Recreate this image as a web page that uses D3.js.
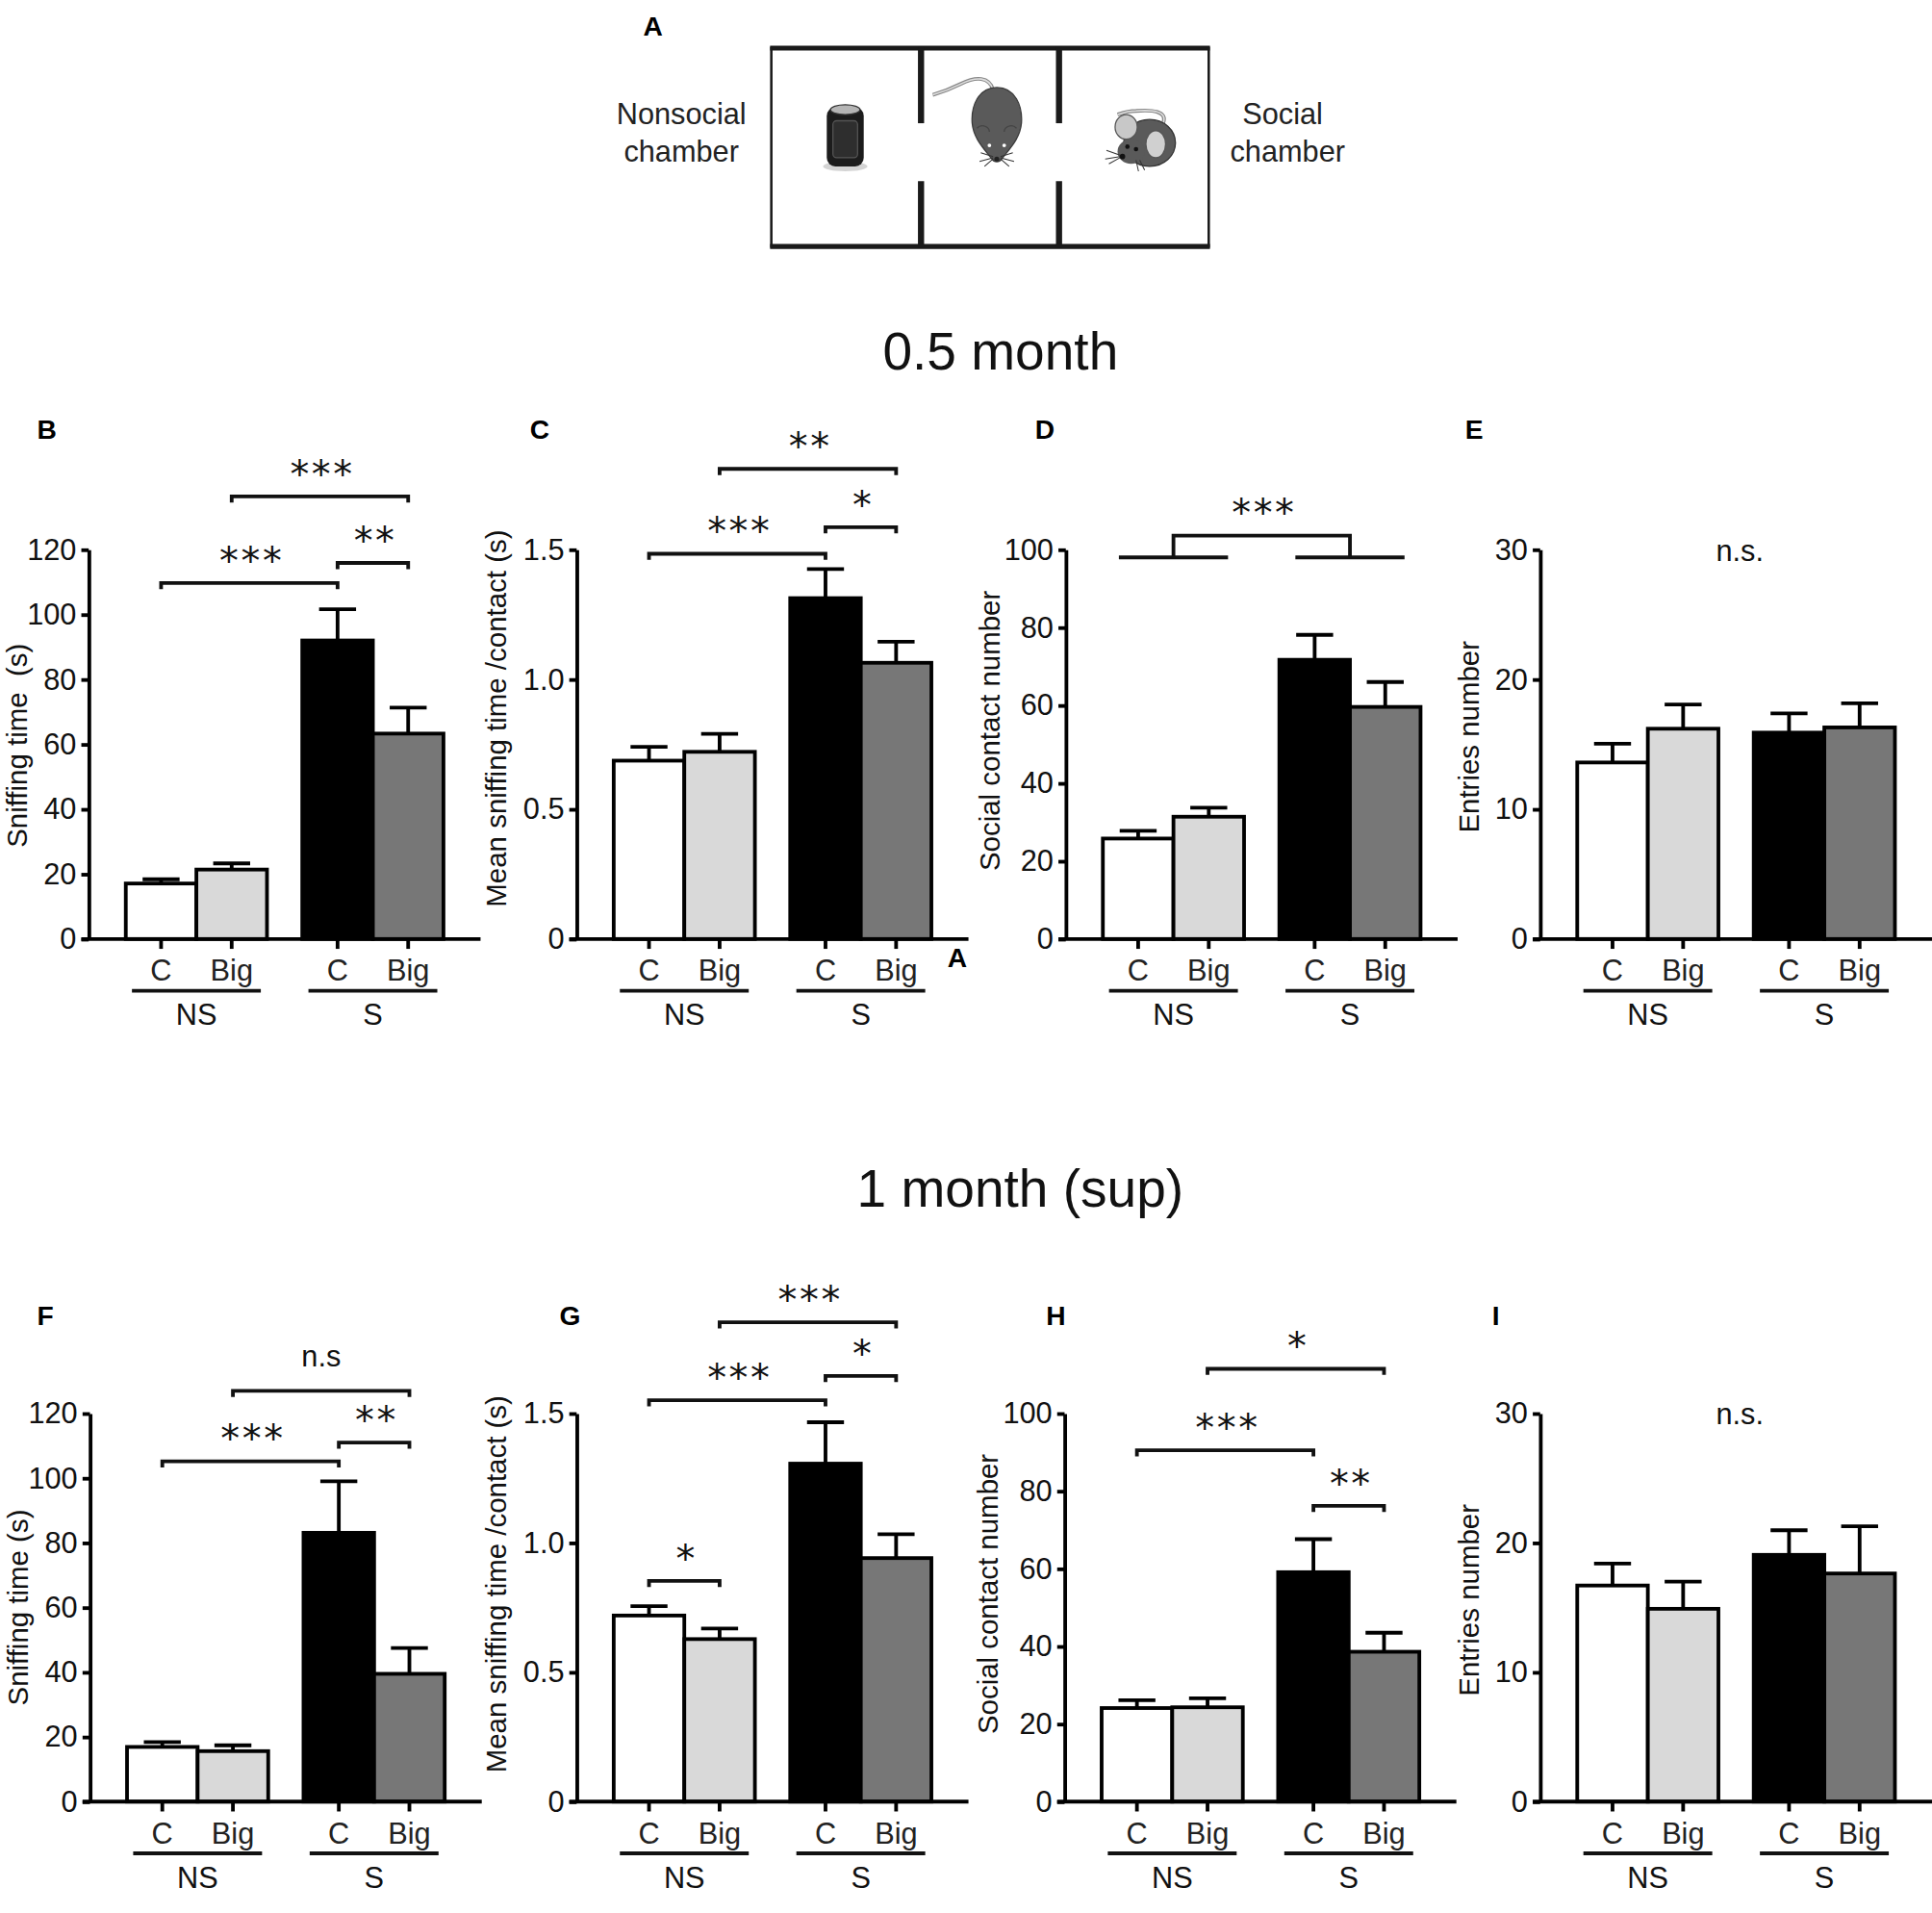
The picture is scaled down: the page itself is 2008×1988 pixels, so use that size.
<!DOCTYPE html>
<html lang="en">
<head>
<meta charset="UTF-8">
<title>Three-chamber social test</title>
<script src="https://d3js.org/d3.v7.min.js"></script>
<style>
  body { margin: 0; padding: 0; background: #fff; }
  svg { display: block; font-family: "Liberation Sans", Arial, sans-serif; }
  .stars { font-family: "DejaVu Sans", sans-serif; }
</style>
</head>
<body>
<div id="chart"></div>
<script>
// ---- data ----
const barGroup = ["NS", "NS", "S", "S"];
const barCond = ["C", "Big", "C", "Big"];
const groupNames = ["NS", "S"];
const condNames = ["C", "Big"];

// 0.5 month
const sniffHalf = [17.1, 21.4, 92.0, 63.3];
const sniffHalfErr = [18.4, 23.3, 101.6, 71.3];
const meanHalf = [0.687, 0.721, 1.313, 1.064];
const meanHalfErr = [0.740, 0.790, 1.425, 1.145];
const contactHalf = [25.8, 31.4, 71.7, 59.6];
const contactHalfErr = [27.8, 33.7, 78.1, 66.0];
const entriesHalf = [13.6, 16.2, 15.9, 16.3];
const entriesHalfErr = [15.05, 18.07, 17.38, 18.16];

// 1 month (sup)
const sniffOne = [16.9, 15.6, 83.1, 39.5];
const sniffOneErr = [18.4, 17.4, 99.0, 47.5];
const meanOne = [0.719, 0.628, 1.306, 0.941];
const meanOneErr = [0.755, 0.669, 1.466, 1.033];
const contactOne = [24.1, 24.3, 59.1, 38.6];
const contactOneErr = [26.1, 26.6, 67.6, 43.5];
const entriesOne = [16.7, 14.9, 19.07, 17.63];
const entriesOneErr = [18.4, 17.0, 20.97, 21.28];

// significance brackets: [from bar, to bar, level, label]
const sigB = [[0, 2, 109.7, "***"], [2, 3, 115.9, "**"], [1, 3, 136.4, "***"]];
const sigC = [[0, 2, 1.484, "***"], [2, 3, 1.586, "*"], [1, 3, 1.811, "**"]];
const sigD = [[0, 1, 98, 103.6, "***"]]; // group vs group: [groupA, groupB, low, high, label]
const sigF = [[0, 2, 105.2, "***"], [2, 3, 111, "**"], [1, 3, 127, "n.s"]];
const sigG = [[0, 1, 0.853, "*"], [0, 2, 1.551, "***"], [2, 3, 1.645, "*"], [1, 3, 1.852, "***"]];
const sigH = [[0, 2, 90.5, "***"], [2, 3, 76.2, "**"], [1, 3, 111.5, "*"]];

const ticks120 = [0, 20, 40, 60, 80, 100, 120];
const ticks15 = [0, 0.5, 1.0, 1.5];
const ticks100 = [0, 20, 40, 60, 80, 100];
const ticks30 = [0, 10, 20, 30];

const barFill = ["#ffffff", "#d9d9d9", "#000000", "#777777"];

// ---- canvas ----
const W = 1568, H = 1552.4;
const svg = d3.select("#chart").append("svg")
    .attr("width", 2008).attr("height", 1988)
    .attr("viewBox", `0 0 ${W} ${H}`);
svg.append("rect").attr("width", W).attr("height", H).attr("fill", "#fff");

const fmtInt = d3.format("d");
const fmtDec = d => d === 0 ? "0" : d3.format(".1f")(d);

const panels = [
    {letter: "B", lx: 30, ly: 356, ax: 72, zero: 762, top: 446, max: 120, ticks: ticks120, fmt: fmtInt,
     title: "Sniffing time  (s)", tdx: -50, tdy: 1, vals: sniffHalf, errs: sniffHalfErr, sig: sigB},
    {letter: "C", lx: 430, ly: 356, ax: 468, zero: 762, top: 446, max: 1.5, ticks: ticks15, fmt: fmtDec,
     title: "Mean sniffing time /contact (s)", tdx: -57, tdy: -21, vals: meanHalf, errs: meanHalfErr, sig: sigC},
    {letter: "D", lx: 840, ly: 356, ax: 865, zero: 762, top: 446, max: 100, ticks: ticks100, fmt: fmtInt,
     title: "Social contact number", tdx: -54, tdy: -11, vals: contactHalf, errs: contactHalfErr, groupSig: sigD},
    {letter: "E", lx: 1189, ly: 356, ax: 1250, zero: 762, top: 446, max: 30, ticks: ticks30, fmt: fmtInt,
     title: "Entries number", tdx: -50, tdy: -6, vals: entriesHalf, errs: entriesHalfErr, ns: "n.s."},
    {letter: "F", lx: 30, ly: 1075, ax: 73, zero: 1462, top: 1147, max: 120, ticks: ticks120, fmt: fmtInt,
     title: "Sniffing time (s)", tdx: -50, tdy: 0, vals: sniffOne, errs: sniffOneErr, sig: sigF},
    {letter: "G", lx: 454, ly: 1075, ax: 468, zero: 1462, top: 1147, max: 1.5, ticks: ticks15, fmt: fmtDec,
     title: "Mean sniffing time /contact (s)", tdx: -57, tdy: -19, vals: meanOne, errs: meanOneErr, sig: sigG},
    {letter: "H", lx: 849, ly: 1075, ax: 864, zero: 1462, top: 1147, max: 100, ticks: ticks100, fmt: fmtInt,
     title: "Social contact number", tdx: -54, tdy: -11, vals: contactOne, errs: contactOneErr, sig: sigH},
    {letter: "I", lx: 1211, ly: 1075, ax: 1250, zero: 1462, top: 1147, max: 30, ticks: ticks30, fmt: fmtInt,
     title: "Entries number", tdx: -50, tdy: -6, vals: entriesOne, errs: entriesOneErr, ns: "n.s."}
];

function drawPanel(p) {
    svg.append("text").attr("x", p.lx).attr("y", p.ly)
        .attr("font-size", 22).attr("font-weight", "bold").text(p.letter);

    const g = svg.append("g").attr("transform", `translate(${p.ax},0)`);
    const y = d3.scaleLinear().domain([0, p.max]).range([p.zero, p.top]);
    const gx = d3.scaleBand().domain(groupNames).range([0, 318]).paddingInner(0.2).paddingOuter(0.21);
    const cx = d3.scaleBand().domain(condNames).range([0, gx.bandwidth()]);
    const x0 = i => gx(barGroup[i]) + cx(barCond[i]);
    const mid = i => x0(i) + cx.bandwidth() / 2;

    // bars
    g.selectAll("rect.bar").data(p.vals).join("rect").attr("class", "bar")
        .attr("x", (d, i) => x0(i)).attr("y", d => y(d))
        .attr("width", cx.bandwidth()).attr("height", d => y(0) - y(d))
        .attr("fill", (d, i) => barFill[i]).attr("stroke", "#000").attr("stroke-width", 3);

    // error bars (upper only)
    const eb = g.selectAll("g.err").data(p.vals).join("g").attr("class", "err")
        .attr("stroke", "#000").attr("stroke-width", 3);
    eb.append("line").attr("x1", (d, i) => mid(i)).attr("x2", (d, i) => mid(i))
        .attr("y1", d => y(d)).attr("y2", (d, i) => y(p.errs[i]));
    eb.append("line").attr("x1", (d, i) => mid(i) - 15).attr("x2", (d, i) => mid(i) + 15)
        .attr("y1", (d, i) => y(p.errs[i])).attr("y2", (d, i) => y(p.errs[i]));

    // y axis
    const ya = g.append("g").call(d3.axisLeft(y).tickValues(p.ticks).tickFormat(p.fmt)
        .tickSize(6).tickSizeOuter(0).tickPadding(4));
    ya.select(".domain").attr("stroke-width", 3);
    ya.selectAll(".tick line").attr("stroke-width", 3);
    ya.selectAll(".tick text").attr("font-size", 24).attr("fill", "#111")
        .attr("font-family", "Liberation Sans, Arial, sans-serif");

    // x axis
    g.append("line").attr("x1", -6).attr("x2", gx.range()[1])
        .attr("y1", y(0)).attr("y2", y(0)).attr("stroke", "#000").attr("stroke-width", 3);
    g.selectAll("line.xt").data(p.vals).join("line").attr("class", "xt")
        .attr("x1", (d, i) => mid(i)).attr("x2", (d, i) => mid(i))
        .attr("y1", y(0)).attr("y2", y(0) + 8).attr("stroke", "#000").attr("stroke-width", 3);
    g.selectAll("text.cond").data(barCond).join("text").attr("class", "cond")
        .attr("x", (d, i) => mid(i)).attr("y", y(0) + 34)
        .attr("text-anchor", "middle").attr("font-size", 24).attr("fill", "#222").text(d => d);
    groupNames.forEach(gn => {
        g.append("line").attr("x1", gx(gn) + 5).attr("x2", gx(gn) + gx.bandwidth() - 5)
            .attr("y1", y(0) + 42).attr("y2", y(0) + 42).attr("stroke", "#111").attr("stroke-width", 3);
        g.append("text").attr("x", gx(gn) + gx.bandwidth() / 2).attr("y", y(0) + 70)
            .attr("text-anchor", "middle").attr("font-size", 24).attr("fill", "#111").text(gn);
    });

    // axis title
    g.append("text")
        .attr("transform", `translate(${p.tdx},${(p.zero + p.top) / 2 + p.tdy}) rotate(-90)`)
        .attr("text-anchor", "middle").attr("font-size", 23).attr("fill", "#111")
        .style("white-space", "pre").text(p.title);

    // pairwise brackets
    (p.sig || []).forEach(s => {
        const [a, b, lev, lab] = s;
        const xa = mid(a), xb = mid(b), yy = y(lev);
        g.append("path").attr("d", `M${xa},${yy + 5}V${yy}H${xb}V${yy + 5}`)
            .attr("fill", "none").attr("stroke", "#111").attr("stroke-width", 3);
        starText(g, (xa + xb) / 2, yy, lab);
    });

    // group-vs-group bracket
    (p.groupSig || []).forEach(s => {
        const [ga, gb, low, high, lab] = s;
        const bk = g.append("g").attr("fill", "none").attr("stroke", "#111").attr("stroke-width", 3);
        [ga, gb].forEach(k => {
            const gn = groupNames[k];
            bk.append("line").attr("x1", gx(gn) + 13).attr("x2", gx(gn) + gx.bandwidth() - 13)
                .attr("y1", y(low)).attr("y2", y(low));
        });
        const ca = gx(groupNames[ga]) + gx.bandwidth() / 2;
        const cb = gx(groupNames[gb]) + gx.bandwidth() / 2;
        bk.append("path").attr("d", `M${ca},${y(low)}V${y(high)}H${cb}V${y(low)}`);
        starText(g, (ca + cb) / 2, y(high), lab);
    });

    if (p.ns) {
        g.append("text").attr("x", 162).attr("y", y(p.max) + 9)
            .attr("text-anchor", "middle").attr("font-size", 24).attr("fill", "#111").text(p.ns);
    }
}

function starText(g, x, yy, lab) {
    if (lab.startsWith("n")) {
        g.append("text").attr("x", x).attr("y", yy - 20)
            .attr("text-anchor", "middle").attr("font-size", 24).attr("fill", "#111").text(lab);
    } else {
        g.append("text").attr("class", "stars").attr("x", x + 2).attr("y", yy - 8)
            .attr("text-anchor", "middle").attr("font-size", 31).attr("letter-spacing", 2)
            .attr("fill", "#111").text(lab);
    }
}

panels.forEach(drawPanel);

// ---- section titles ----
svg.append("text").attr("x", 812).attr("y", 300).attr("text-anchor", "middle")
    .attr("font-size", 43).attr("fill", "#111").text("0.5 month");
svg.append("text").attr("x", 828).attr("y", 979).attr("text-anchor", "middle")
    .attr("font-size", 43).attr("fill", "#111").text("1 month (sup)");
// stray panel mark next to C
svg.append("text").attr("x", 777).attr("y", 785).attr("text-anchor", "middle")
    .attr("font-size", 22).attr("font-weight", "bold").text("A");

// ---- panel A: three-chamber schematic ----
const A = svg.append("g");
A.append("text").attr("x", 530).attr("y", 29).attr("text-anchor", "middle")
    .attr("font-size", 22).attr("font-weight", "bold").text("A");
[["Nonsocial", 553, 101], ["chamber", 553, 131], ["Social", 1041, 101], ["chamber", 1045, 131]]
    .forEach(t => A.append("text").attr("x", t[1]).attr("y", t[2]).attr("text-anchor", "middle")
        .attr("font-size", 24).attr("fill", "#222").text(t[0]));

const box = A.append("g").attr("stroke", "#1a1a1a");
box.append("line").attr("x1", 625).attr("x2", 982).attr("y1", 39).attr("y2", 39).attr("stroke-width", 4);
box.append("line").attr("x1", 625).attr("x2", 982).attr("y1", 200).attr("y2", 200).attr("stroke-width", 4);
box.append("line").attr("x1", 626).attr("x2", 626).attr("y1", 38).attr("y2", 201).attr("stroke-width", 2);
box.append("line").attr("x1", 981).attr("x2", 981).attr("y1", 38).attr("y2", 201).attr("stroke-width", 2);
[747.5, 859.5].forEach(xd => {
    box.append("line").attr("x1", xd).attr("x2", xd).attr("y1", 38).attr("y2", 100).attr("stroke-width", 5);
    box.append("line").attr("x1", xd).attr("x2", xd).attr("y1", 147).attr("y2", 201).attr("stroke-width", 5);
});

// cylinder
A.append("ellipse").attr("cx", 686).attr("cy", 135).attr("rx", 18).attr("ry", 4).attr("fill", "#aaa").attr("opacity", 0.5);
A.append("rect").attr("x", 671).attr("y", 87).attr("width", 30).attr("height", 48).attr("rx", 7).attr("fill", "#1c1c1c");
A.append("rect").attr("x", 676).attr("y", 98).attr("width", 20).attr("height", 30).attr("rx", 3)
    .attr("fill", "#2e2e2e").attr("stroke", "#555").attr("stroke-width", 1);
A.append("ellipse").attr("cx", 686).attr("cy", 89).attr("rx", 12).attr("ry", 4).attr("fill", "#b5b5b5").attr("stroke", "#333");

// mouse seen from above (centre chamber)
A.append("path").attr("d", "M806,73 C803,62 792,62 780,68 C772,72 764,75 757,77")
    .attr("fill", "none").attr("stroke", "#888").attr("stroke-width", 3);
A.append("path").attr("d", "M806,73 C803,62 792,62 780,68 C772,72 764,75 757,77")
    .attr("fill", "none").attr("stroke", "#e0e0e0").attr("stroke-width", 1.2);
A.append("path").attr("d", "M809,71 C824,71 830,86 829,100 C828,112 820,120 813,129 C811,132 807,132 805,129 C798,120 790,112 789,100 C788,86 794,71 809,71 Z")
    .attr("fill", "#5a5a5a").attr("stroke", "#3a3a3a").attr("stroke-width", 1);
A.append("path").attr("d", "M793,104 C797,100 803,103 803,107").attr("fill", "none").attr("stroke", "#444");
A.append("path").attr("d", "M825,104 C821,100 815,103 815,107").attr("fill", "none").attr("stroke", "#444");
A.append("circle").attr("cx", 803).attr("cy", 118).attr("r", 1.5).attr("fill", "#fff");
A.append("circle").attr("cx", 815).attr("cy", 118).attr("r", 1.5).attr("fill", "#fff");
A.append("circle").attr("cx", 809).attr("cy", 129).attr("r", 2).attr("fill", "#222");
A.append("path").attr("d", "M806,127 L796,124 M806,128 L795,131 M806,129 L799,135 M812,127 L822,124 M812,128 L823,131 M812,129 L819,135")
    .attr("stroke", "#333").attr("stroke-width", 0.8);

// small mouse (social chamber)
A.append("path").attr("d", "M944,100 C948,90 935,89 922,90 C915,90 910,92 907,93")
    .attr("fill", "none").attr("stroke", "#888").attr("stroke-width", 3);
A.append("path").attr("d", "M944,100 C948,90 935,89 922,90 C915,90 910,92 907,93")
    .attr("fill", "none").attr("stroke", "#e0e0e0").attr("stroke-width", 1.2);
A.append("ellipse").attr("cx", 933).attr("cy", 116).attr("rx", 21).attr("ry", 19)
    .attr("fill", "#5a5a5a").attr("stroke", "#333").attr("stroke-width", 1);
A.append("ellipse").attr("cx", 918).attr("cy", 123).attr("rx", 11).attr("ry", 10).attr("fill", "#5a5a5a");
A.append("ellipse").attr("cx", 914).attr("cy", 103).attr("rx", 9).attr("ry", 10)
    .attr("fill", "#c8c8c8").attr("stroke", "#555").attr("stroke-width", 1);
A.append("ellipse").attr("cx", 938).attr("cy", 117).attr("rx", 8).attr("ry", 11)
    .attr("fill", "#d0d0d0").attr("stroke", "#555").attr("stroke-width", 1);
A.append("circle").attr("cx", 915).attr("cy", 119).attr("r", 1.8).attr("fill", "#111");
A.append("circle").attr("cx", 922).attr("cy", 121).attr("r", 1.8).attr("fill", "#111");
A.append("circle").attr("cx", 911).attr("cy", 127).attr("r", 2.2).attr("fill", "#111");
A.append("path").attr("d", "M909,126 L898,122 M909,127 L897,129 M909,128 L900,133 M922,130 L924,139 M925,130 L929,138")
    .attr("stroke", "#333").attr("stroke-width", 0.8);
</script>
</body>
</html>
